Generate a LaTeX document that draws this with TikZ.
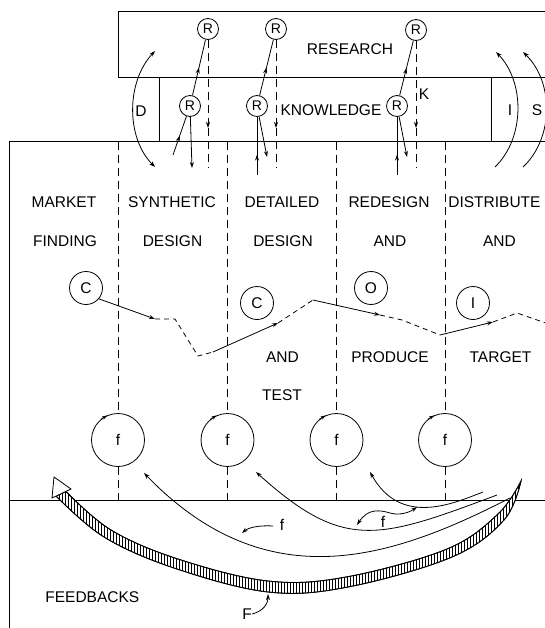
\documentclass[tikz,border=0pt]{standalone}
\usepackage{fontspec}
\setmainfont{Liberation Sans}
\usetikzlibrary{arrows.meta,decorations.markings}
\begin{document}
\begin{tikzpicture}[x=1pt,y=-1pt,line width=0.8pt,
  lbl/.style={font=\fontsize{15.5}{18}\selectfont,inner sep=0pt,text height=11.1pt,text depth=0pt},
  rnode/.style={circle,draw,inner sep=0pt,minimum size=21pt,font=\fontsize{14}{16}\selectfont},
  cnode/.style={circle,draw,inner sep=0pt,minimum size=33pt,font=\fontsize{15.5}{18}\selectfont},
  fnode/.style={circle,draw,inner sep=0pt,minimum size=53pt,font=\fontsize{15.5}{18}\selectfont},
  dline/.style={dash pattern=on 8pt off 5pt},
  dshort/.style={dash pattern=on 5pt off 4pt},
  tip/.style={-{Stealth[length=6pt,width=4pt]}},
  bitip/.style={{Stealth[length=6pt,width=4pt]}-{Stealth[length=6pt,width=4pt]}},
  midarr/.style={postaction={decorate},decoration={markings,mark=at position #1 with {\arrow{Stealth[length=6pt,width=4pt]}}}},
]
\useasboundingbox (0,0) rectangle (545,628);
\clip (0,0) rectangle (545,628);

% frames
\draw (560,11) -- (118,11) -- (118,77) -- (560,77);
\draw (9.7,640) -- (9.7,141.7) -- (560,141.7);
\draw (159,77) -- (159,141.7);
\draw (491,77) -- (491,141.7);
\draw (9.7,500) -- (560,500);

% research / knowledge texts
\node[lbl] (research) at (350,49) {RESEARCH};
\node[lbl] (knowledge) at (331,110) {KNOWLEDGE};
\node[lbl] (dlab) at (141,111) {D};
\node[lbl] (ilab) at (510,110) {I};
\node[lbl] (slab) at (537,110) {S};
\node[lbl] (klab) at (424,94) {K};

% R nodes
\node[rnode] (rt1) at (208,29) {R};
\node[rnode] (rt2) at (276,29) {R};
\node[rnode] (rt3) at (416,30) {R};
\node[rnode] (rk1) at (190,106) {R};
\node[rnode] (rk2) at (257,106) {R};
\node[rnode] (rk3) at (397,106) {R};

\draw[midarr=0.5] (rk1) -- (rt1);
\draw[midarr=0.5] (rk2) -- (rt2);
\draw[midarr=0.5] (rk3) -- (rt3);

\coordinate (in1) at (173,155);
\coordinate (out1) at (192,168);
\coordinate (in2) at (257,175);
\coordinate (out2) at (267,157);
\coordinate (in3) at (397,175);
\coordinate (out3) at (407,157);
\draw[midarr=0.5] (in1) -- (rk1);
\draw[tip] (rk1) -- (out1);
\draw[midarr=0.35] (in2) -- (rk2);
\draw[tip] (rk2) -- (out2);
\draw[midarr=0.35] (in3) -- (rk3);
\draw[tip] (rk3) -- (out3);

\coordinate (ka1) at (208,128);
\coordinate (kb1) at (208,168);
\coordinate (ka2) at (276,128);
\coordinate (kb2) at (276,168);
\coordinate (ka3) at (416,128);
\coordinate (kb3) at (416,168);
\draw[dline,tip] (rt1) -- (ka1);
\draw[dline] (ka1) -- (kb1);
\draw[dline,tip] (rt2) -- (ka2);
\draw[dline] (ka2) -- (kb2);
\draw[dline,tip] (rt3) -- (ka3);
\draw[dline] (ka3) -- (kb3);

% D, I, S arcs
\coordinate (dtop) at (155,51);
\coordinate (dbot) at (155,167);
\draw[bitip] (dtop) .. controls (126,82) and (126,138) .. (dbot);
\coordinate (itop) at (496,52);
\coordinate (ibot) at (495,167);
\draw[tip] (ibot) .. controls (525,138) and (525,82) .. (itop);
\coordinate (stop) at (523,52);
\coordinate (sbot) at (523,167);
\draw[tip] (sbot) .. controls (554,138) and (554,82) .. (stop);

% column labels
\node[lbl] (l11) at (64,202) {MARKET};
\node[lbl] (l12) at (65,241) {FINDING};
\node[lbl] (l21) at (172,202) {SYNTHETIC};
\node[lbl] (l22) at (172.5,241) {DESIGN};
\node[lbl] (l31) at (282,202) {DETAILED};
\node[lbl] (l32) at (283,241) {DESIGN};
\node[lbl] (l33) at (282.5,357) {AND};
\node[lbl] (l34) at (282,395) {TEST};
\node[lbl] (l41) at (389,202) {REDESIGN};
\node[lbl] (l42) at (390,241) {AND};
\node[lbl] (l43) at (390,357) {PRODUCE};
\node[lbl,anchor=west] (l51) at (448,202) {DISTRIBUTE};
\node[lbl] (l52) at (499.5,241) {AND};
\node[lbl] (l53) at (500.5,357) {TARGET};

% C O I circles
\node[cnode] (c1) at (86,288) {C};
\node[cnode] (c2) at (257,303) {C};
\node[cnode] (o1) at (371,288) {O};
\node[cnode] (i1) at (473,303) {I};

\coordinate (p1) at (155,319);
\coordinate (p2) at (175,319);
\coordinate (p3) at (198,356);
\coordinate (p4) at (213,352);
\coordinate (p5) at (278,323);
\coordinate (p6) at (313,300);
\coordinate (p7) at (380,315);
\coordinate (p8) at (402,320);
\coordinate (p9) at (440,335);
\coordinate (p10) at (493,322);
\coordinate (p11) at (517,313);
\coordinate (p12) at (560,328);
\draw[tip] (c1.-40) -- (p1);
\draw[dshort] (p1) -- (p2) -- (p3) -- (p4);
\draw[tip] (p4) -- (p5);
\draw[dshort] (p5) -- (p6);
\draw[tip] (p6) -- (p7);
\draw[dshort] (p7) -- (p8) -- (p9);
\draw[tip] (p9) -- (p10);
\draw[dshort] (p10) -- (p11) -- (p12);

% f circles and dashed dividers
\foreach \i/\x in {1/118,2/227.5,3/336.5,4/445}{
  \node[fnode] (f\i) at (\x,440) {f};
  \coordinate (t\i) at (\x,141.7);
  \coordinate (b\i) at (\x,500);
  \draw[dline] (t\i) -- (f\i);
  \draw[dline] (f\i) -- (b\i);
  \draw[-{Stealth[length=5pt,width=3.5pt]}] (f\i.130) -- (f\i.114);
}

% big hatched feedback band F
\draw[fill=white] plot[smooth,tension=0.6] coordinates {(56,496) (104,537) (174,568) (268,592) (348,587) (452,557) (504,520) (521,481)}
  -- plot[smooth,tension=0.6] coordinates {(521,481) (498,514) (447,549) (346,577) (268,581) (178,559) (111,530) (66,491.5)} -- cycle;
\begin{scope}
\clip plot[smooth,tension=0.6] coordinates {(56,496) (104,537) (174,568) (268,592) (348,587) (452,557) (504,520) (521,481)}
  -- plot[smooth,tension=0.6] coordinates {(521,481) (498,514) (447,549) (346,577) (268,581) (178,559) (111,530) (66,491.5)} -- cycle;
\foreach \x in {50,53,...,530}{\draw[line width=0.6pt] (\x,470) -- (\x,600);}
\end{scope}
\draw plot[smooth,tension=0.6] coordinates {(56,496) (104,537) (174,568) (268,592) (348,587) (452,557) (504,520) (521,481)}
  -- plot[smooth,tension=0.6] coordinates {(521,481) (498,514) (447,549) (346,577) (268,581) (178,559) (111,530) (66,491.5)} -- cycle;
\draw[fill=white] (54,477) -- (71,489) -- (52,498) -- cycle;

% thin feedback arcs
\coordinate (a1s) at (510,498);
\coordinate (a1e) at (144,473);
\coordinate (a2s) at (497,495);
\coordinate (a2e) at (256,472);
\coordinate (a3s) at (483,492);
\coordinate (a3e) at (370,472);
\draw[tip] (a1s) .. controls (394,557.5) and (268,601.5) .. (a1e);
\draw[tip] (a2s) .. controls (378,539.5) and (344,551.5) .. (a2e);
\draw[tip] (a3s) .. controls (453.6,503.3) and (400.7,527.3) .. (a3e);

% wavy f arrows
\coordinate (w1s) at (357,525);
\coordinate (w1m) at (390,513);
\coordinate (w1e) at (417,507);
\draw[bitip] (w1s) .. controls (368,508) and (380,510) .. (w1m) .. controls (400,516) and (410,512) .. (w1e);
\node[lbl] (fw1) at (383,522) {f};
\coordinate (w2s) at (273,526);
\coordinate (w2e) at (242,533);
\draw[tip] (w2s) .. controls (258,525) and (248,528) .. (w2e);
\node[lbl] (fw2) at (282,525) {f};

% F label
\node[lbl] (flab) at (247,614) {F};
\coordinate (fa) at (268,594);
\draw[tip] (flab.east) .. controls (264,611) and (268,603) .. (fa);

\node[lbl,anchor=west] (feed) at (45,597) {FEEDBACKS};
\end{tikzpicture}
\end{document}
